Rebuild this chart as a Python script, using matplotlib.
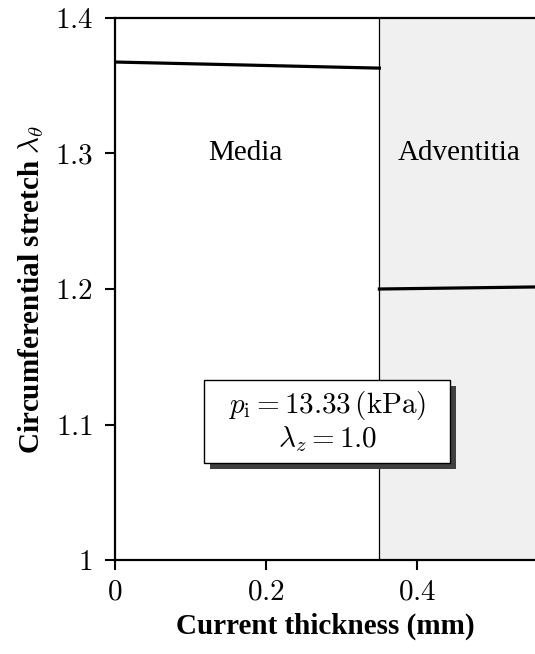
import matplotlib.pyplot as plt
from matplotlib import patheffects
from matplotlib.patches import Rectangle

plt.rcParams['mathtext.fontset'] = 'cm'
plt.rcParams['font.family'] = 'Liberation Serif'

# radial position (mm) and circumferential stretch in each layer
media_x = [0.0, 0.35]
media_stretch = [1.3675, 1.363]
adv_x = [0.35, 0.556]
adv_stretch = [1.200, 1.2015]
interface = 0.35
xticks = [0, 0.2, 0.4]
yticks = [1.0, 1.1, 1.2, 1.3, 1.4]
ytick_labels = ['1', '1.1', '1.2', '1.3', '1.4']

fig = plt.figure(figsize=(5.35, 6.54), dpi=100)
ax = fig.add_axes([0.215, 0.1437, 0.785, 0.8288])

ax.axvspan(interface, adv_x[-1], color='#f0f0f0', zorder=0)
ax.axvline(interface, color='black', lw=0.9, zorder=1)

ax.plot(media_x, media_stretch, color='black', lw=2.3, zorder=3)
ax.plot(adv_x, adv_stretch, color='black', lw=2.3, zorder=3)

ax.set_xlim(0, adv_x[-1])
ax.set_ylim(1.0, 1.4)
ax.set_xticks(xticks)
ax.set_xticklabels(['$%g$' % t for t in xticks])
ax.set_yticks(yticks)
ax.set_yticklabels(['$%s$' % s for s in ytick_labels])
ax.tick_params(direction='out', length=7, width=1.5, labelsize=21, pad=7)
ax.tick_params(axis='y', pad=9)

for s in ['left', 'bottom', 'top']:
    ax.spines[s].set_linewidth(1.6)
ax.spines['right'].set_visible(False)

ax.set_xlabel('Current thickness (mm)', fontsize=21, fontweight='bold', labelpad=5)
ax.set_ylabel(r'Circumferential stretch $\lambda_\theta$', fontsize=21,
              fontweight='bold', labelpad=6)

ax.text(0.172, 1.3, 'Media', fontsize=21, ha='center', va='center')
ax.text(0.455, 1.3, 'Adventitia', fontsize=21, ha='center', va='center')

note = ax.text(0.281, 1.102,
               '$p_\\mathrm{i} = 13.33\\,(\\mathrm{kPa})$\n$\\lambda_z = 1.0$',
               fontsize=21, ha='center', va='center', linespacing=1.1, zorder=6)

# framed box with a dark drop shadow, sized around the note text
fig.canvas.draw()
bb = note.get_window_extent()
padx, pady = 24, 9
(x0, y0), (x1, y1) = ax.transData.inverted().transform(
    [(bb.x0 - padx, bb.y0 - pady), (bb.x1 + padx, bb.y1 + pady)])
frame = Rectangle((x0, y0), x1 - x0, y1 - y0, fc='white', ec='black', lw=1.0, zorder=5)
frame.set_path_effects([
    patheffects.SimplePatchShadow(offset=(4, -4), shadow_rgbFace='#404040', alpha=1.0),
    patheffects.Normal()])
ax.add_patch(frame)

fig.savefig('out.png', dpi=100)
